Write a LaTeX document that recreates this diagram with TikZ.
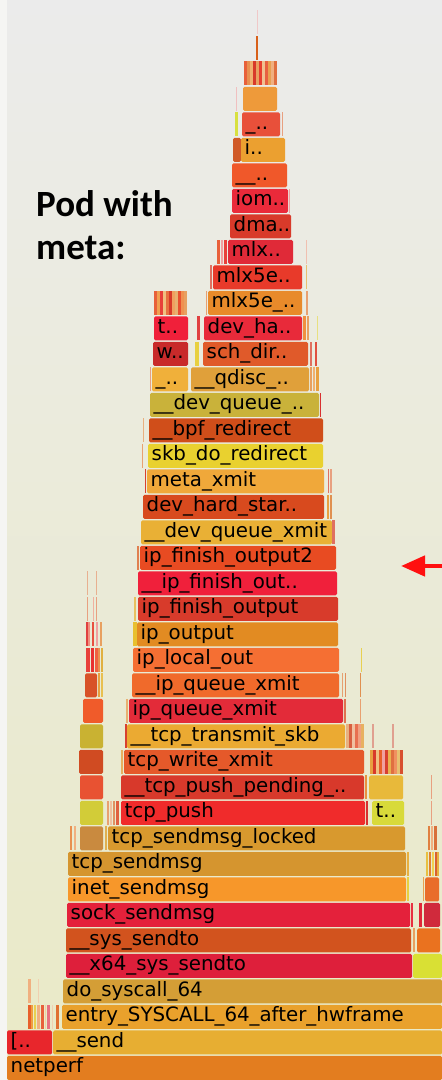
\documentclass[tikz,border=0pt]{standalone}
\usepackage{fontspec}
\setmainfont{DejaVu Sans}
\newfontfamily\titlefont{Carlito}
\usetikzlibrary{arrows.meta}
\definecolor{bgtop}{HTML}{EBEBEB}
\definecolor{bgbot}{HTML}{EAEAC6}
\definecolor{bgleft}{HTML}{F5F5F3}
\definecolor{arrowred}{HTML}{FF1010}
\newcommand\fgs[4]{\edef\fgtmp{\noexpand\definecolor{fgc}{HTML}{#4}}\fgtmp
  \fill[fgc] (#2,{#1*25.5}) rectangle (#3,{#1*25.5+24});}
\newcommand\fgm[2]{\foreach \a/\b/\c in {#2} {\fgs{#1}{\a}{\b}{\c}}}
\newcommand\fgb[6]{\definecolor{fgc}{HTML}{#5}%
  \fill[fgc, rounded corners=1.5pt] (#3,{#2*25.5}) rectangle (#4,{#2*25.5+24});
  \node[lbl] (#1) at ({#3+3.5},{#2*25.5+7}) {#6};}
\tikzset{lbl/.style={anchor=base west, inner sep=0pt, text=black,
  font=\fontsize{19.8}{22}\selectfont},
  ttl/.style={anchor=base west, inner sep=0pt, text=black,
  font=\titlefont\bfseries\fontsize{37}{40}\selectfont}}
\begin{document}
\begin{tikzpicture}[x=1pt,y=1pt]
\useasboundingbox (0,0) rectangle (442,1080);
\clip (0,0) rectangle (442,1080);
\shade[top color=bgtop, bottom color=bgbot] (7,0) rectangle (442,1080);
\fill[bgleft] (0,0) rectangle (7,1080);
% title
\node[ttl] (t1) at (36,863) {Pod with};
\node[ttl] (t2) at (36,820) {meta:};
% row 0
\fgb{n0}{0}{7}{442}{E37D1F}{netperf}
% row 1
\fgb{n1a}{1}{7}{52}{E8262C}{[..}
\fgb{n1}{1}{53}{442}{E7AE32}{\_\_send}
% row 2
\fgm{2}{28/31/E8602A,31/33/F0A040,34/36/E8D050,37/40/F0B080,41/44/E8603A,45/46/F0D0A0,47/50/E87080,52/53/F0D0B0,56/59/E07030}
\fgb{n2}{2}{62}{442}{E9A12C}{entry\_SYSCALL\_64\_after\_hwframe}
% row 3
\fgm{3}{28/31/F0B080,38/39/F0D0B0}
\fgb{n3}{3}{63}{442}{D49E36}{do\_syscall\_64}
% row 4
\fgb{n4}{4}{66}{412}{DE1F3B}{\_\_x64\_sys\_sendto}
\fgb{n4b}{4}{413}{442}{D9E034}{}
% row 5
\fgb{n5}{5}{66}{411}{D2531E}{\_\_sys\_sendto}
\fgm{5}{413/415/E8A060}
\fgb{n5b}{5}{417}{440}{EA721F}{}
% row 6
\fgb{n6}{6}{67}{410}{E4213B}{sock\_sendmsg}
\fgm{6}{411/413/E83040,419/422/E02838}
\fgb{n6b}{6}{424}{440}{D02A3C}{}
% row 7
\fgb{n7}{7}{68}{406}{F7972A}{inet\_sendmsg}
\fgm{7}{407/409/E8D040,423/424/E8A050}
\fgb{n7b}{7}{425}{439}{E96C2A}{}
% row 8
\fgb{n8}{8}{68}{406}{D5952F}{tcp\_sendmsg}
\fgm{8}{407/409/E8B040,426/428/E8C040,429/431/E08030,432/434/F0D050,435/437/D86030,437/439/E8B040}
% row 9
\fgm{9}{70/72/E89050,74/76/F0B080,105/107/E0B050,428/430/E08040,431/433/F0B080,434/437/D8703A}
\fgb{n9a}{9}{80}{103}{C98A3F}{}
\fgb{n9}{9}{108}{405}{D8992E}{tcp\_sendmsg\_locked}
% row 10
\fgb{n10a}{10}{80}{103}{D2CC38}{}
\fgm{10}{107/109/E8A070,110/112/F0C0A0,113/115/E09060,116/119/E06040,366/368/D83030,431/432/E8A080}
\fgb{n10}{10}{121}{365}{F02B2B}{tcp\_push}
\fgb{n10b}{10}{372}{404}{D8DA3A}{t..}
% row 11
\fgb{n11a}{11}{80}{103}{E85232}{}
\fgb{n11}{11}{121}{364}{D8392B}{\_\_tcp\_push\_pending\_..}
\fgm{11}{365/367/E89040,431/432/E8A080}
\fgb{n11b}{11}{369}{403}{E8B93A}{}
% row 12
\fgb{n12a}{12}{79}{103}{D04B22}{}
\fgm{12}{121/123/E8B060,370/373/E8A040,373/376/D83A2A,376/379/F0C080,379/382/E8602A,382/385/F0A0A0,385/388/D84030,388/391/E8B050,391/394/E07040,394/397/F09060,397/400/E8C070,400/403/D85030}
\fgb{n12}{12}{124}{364}{E5592A}{tcp\_write\_xmit}
% row 13
\fgb{n13a}{13}{80}{103}{C9B232}{}
\fgm{13}{125/127/D84030,346/349/E8B080,349/352/D86040,352/355/F0C0A0,355/358/E87050,358/361/F0A080,361/364/E8B060,372/374/E0A090,392/394/E0A090}
\fgb{n13}{13}{127}{345}{EBAA32}{\_\_tcp\_transmit\_skb}
% row 14
\fgb{n14a}{14}{83}{103}{F05B2A}{}
\fgm{14}{126/128/E8B070,344/346/E07050,360/361/E8A070}
\fgb{n14}{14}{129}{343}{E32B39}{ip\_queue\_xmit}
% row 15
\fgb{n15a}{15}{85}{97}{D85228}{}
\fgm{15}{98/100/E8A040,101/103/E8C050,342/343/E8A070,345/346/E09060,360/361/E09050}
\fgb{n15}{15}{132}{339}{F06A2B}{\_\_ip\_queue\_xmit}
% row 16
\fgm{16}{86/90/E8403A,91/94/E83030,95/98/F06040,98/100/E89050,101/103/E0B040,361/362/E8D050}
\fgb{n16}{16}{133}{339}{F56F33}{ip\_local\_out}
% row 17
\fgm{17}{86/88/E04040,88/90/F09080,92/94/E85040,96/98/F0A0A0,100/102/E8A060,133/137/E8C030}
\fgb{n17}{17}{137}{338}{E28B22}{ip\_output}
% row 18
\fgm{18}{87/88/E8A080,93/94/F0B0A0,96/97/E8A080,134/136/E8C060}
\fgb{n18}{18}{138}{338}{D83B2B}{ip\_finish\_output}
% row 19
\fgm{19}{87/88/E8B090,96/97/E8B090}
\fgb{n19}{19}{138}{337}{F0203B}{\_\_ip\_finish\_out..}
% row 20
\fgm{20}{137/139/E08050}
\fgb{n20}{20}{140}{336}{E84B22}{ip\_finish\_output2}
% row 21
\fgb{n21}{21}{141}{332}{E9B035}{\_\_dev\_queue\_xmit}
\fgm{21}{332/335/E07060}
% row 22
\fgb{n22}{22}{143}{324}{D84A1E}{dev\_hard\_star..}
\fgm{22}{327/329/E8A040,330/332/E09050}
% row 23
\fgm{23}{145/146/D84030,328/329/E07060,330/332/E8A080}
\fgb{n23}{23}{147}{324}{F0A83A}{meta\_xmit}
% row 24
\fgm{24}{142/143/E8A070}
\fgb{n24}{24}{148}{323}{E9D12F}{skb\_do\_redirect}
% row 25
\fgm{25}{143/144/E8B080}
\fgb{n25}{25}{149}{323}{D04E1A}{\_\_bpf\_redirect}
% row 26
\fgb{n26}{26}{150}{319}{C9B23A}{\_\_dev\_queue\_..}
\fgm{26}{320/321/D83030}
% row 27
\fgm{27}{150/151/E8A080,310/312/E8A060,313/315/F0B070,316/319/E8A040}
\fgb{n27a}{27}{152}{188}{F0B03A}{\_..}
\fgb{n27}{27}{191}{309}{E0A03A}{\_\_qdisc\_..}
% row 28
\fgb{n28a}{28}{153}{188}{C82A2A}{w..}
\fgm{28}{195/199/E8D040,310/312/E07060,315/317/E05040}
\fgb{n28}{28}{203}{308}{E05A2A}{sch\_dir..}
% row 29
\fgb{n29a}{29}{154}{188}{F0203A}{t..}
\fgm{29}{197/200/E04040,303/306/F09040,307/309/E8A060,317/318/E8E080}
\fgb{n29}{29}{204}{302}{E82A3A}{dev\_ha..}
% row 30
\fgm{30}{154/157/E8603A,157/160/F0A050,160/163/E8403A,163/166/F0C080,166/169/E87040,169/172/D83A2A,172/175/F0A060,175/178/E8B070,178/181/E85030,181/184/F09050,184/187/E8A060,206/207/E8A070,306/308/E8A070}
\fgb{n30}{30}{208}{302}{E88A2A}{mlx5e\_..}
% row 31
\fgm{31}{210/212/E07060,306/307/E8C070}
\fgb{n31}{31}{213}{302}{E83A2A}{mlx5e..}
% row 32
\fgm{32}{217/220/E8603A,221/223/F0A0A0,224/227/E8403A,306/307/F0C0B0}
\fgb{n32}{32}{228}{293}{E02A38}{mlx..}
% row 33
\fgb{n33}{33}{230}{291}{D83A2A}{dma..}
% row 34
\fgb{n34}{34}{232}{288}{EA2A3A}{iom..}
\fgm{34}{289/290/F0A0A0}
% row 35
\fgb{n35}{35}{232}{287}{F0582A}{\_\_..}
% row 36
\fgb{n36a}{36}{233}{241}{D05A28}{}
\fgb{n36}{36}{241}{285}{EBA030}{i..}
% row 37
\fgm{37}{235/238/D8E040,282/283/E8A080}
\fgb{n37}{37}{242}{280}{E8503A}{\_..}
% row 38
\fgm{38}{236/237/F0C0C0}
\fgb{n38}{38}{243}{277}{EE9A3A}{}
% row 39
\fgm{39}{244/247/E8603A,247/250/E89050,250/253/F0B070,253/256/D83A2A,256/259/E8A060,259/262/E84030,262/265/F0C090,265/268/E86040,268/271/E8A050,271/274/F0B080,274/277/E07040}
% rows 40-41
\fgm{40}{256/258/D8601A}
\fgm{41}{256.5/257.5/F0C8C8}
% arrow
\coordinate (atail) at (446,514);
\coordinate (ahead) at (401,514);
\draw[arrowred, line width=4.5pt, -{Triangle[length=24pt,width=20pt]}] (atail) -- (ahead);
\end{tikzpicture}
\end{document}
